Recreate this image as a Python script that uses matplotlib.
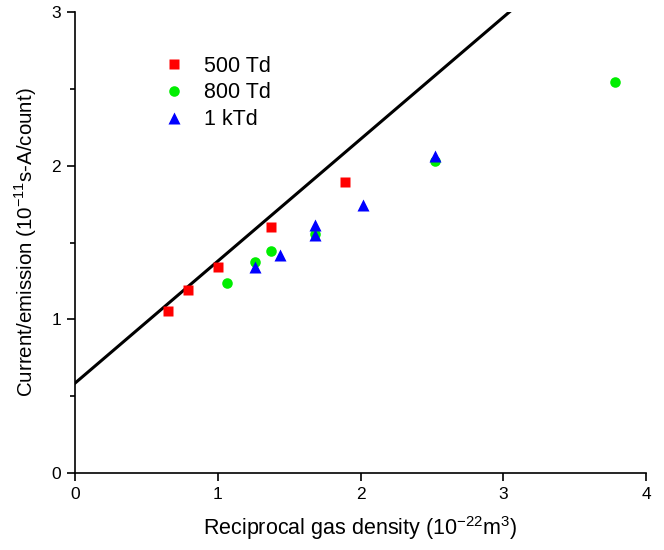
import matplotlib
matplotlib.use("Agg")
import matplotlib.pyplot as plt
import numpy as np
from matplotlib.ticker import MultipleLocator

plt.rcParams['font.family'] = ['Liberation Sans', 'DejaVu Sans']

# reciprocal gas density (1e-22 m^3) vs current/emission (1e-11 s-A/count)
x_500 = [0.653, 0.793, 1.003, 1.373, 1.889]
y_500 = [1.054, 1.191, 1.338, 1.603, 1.891]

x_800 = [1.062, 1.258, 1.370, 1.681, 2.518, 3.784]
y_800 = [1.234, 1.371, 1.446, 1.555, 2.030, 2.548]

x_1k = [1.258, 1.438, 1.681, 1.681, 2.015, 2.518]
y_1k = [1.338, 1.420, 1.612, 1.549, 1.746, 2.066]

fit_intercept = 0.585
fit_slope = 0.794

fig = plt.figure(figsize=(6.64, 5.5), dpi=100)
ax = fig.add_axes([0.113, 0.14, 0.86, 0.838])

fx = np.array([0, 4])
ax.plot(fx, fit_intercept + fit_slope * fx, color='black', lw=2.2, zorder=2)

ax.plot(x_500, y_500, 's', color='#ff0000', ms=6.8, mec='none', label='500 Td', zorder=3)
ax.plot(x_800, y_800, 'o', color='#00ee00', ms=7.6, mec='none', label='800 Td', zorder=3)
ax.plot(x_1k, y_1k, '^', color='#0000ff', ms=8.5, mec='none', label='1 kTd', zorder=4)

ax.set_xlim(0, 4)
ax.set_ylim(0, 3)
ax.xaxis.set_major_locator(MultipleLocator(1))
ax.yaxis.set_major_locator(MultipleLocator(1))
ax.yaxis.set_minor_locator(MultipleLocator(0.5))
ax.spines['top'].set_visible(False)
ax.spines['right'].set_visible(False)
ax.spines['left'].set_linewidth(1.2)
ax.spines['bottom'].set_linewidth(1.2)
ax.tick_params(which='major', direction='out', length=6, width=1.2, labelsize=12.5, pad=4)
ax.tick_params(which='minor', direction='out', length=3.5, width=1.2)

ax.set_xlabel(r'Reciprocal gas density (10$^{\mathregular{-22}}$m$^{\mathregular{3}}$)', fontsize=15.5, labelpad=9)
ax.set_ylabel(r'Current/emission (10$^{\mathregular{-11}}$s-A/count)', fontsize=14.8, labelpad=9)

ax.legend(loc='upper left', bbox_to_anchor=(0.155, 0.905), frameon=False, fontsize=15.5,
          borderpad=0, borderaxespad=0, handletextpad=0.9, labelspacing=0.26,
          handlelength=1.0)

fig.savefig('out.png', dpi=100)
